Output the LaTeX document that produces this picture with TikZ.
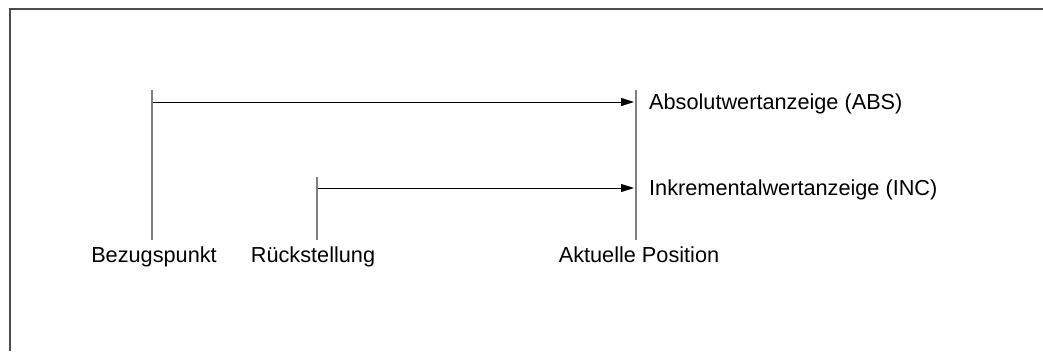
\documentclass[tikz,border=0pt]{standalone}
\usepackage{fontspec}
\setmainfont{Liberation Sans}
\usepackage{xcolor}
\usetikzlibrary{arrows.meta,positioning}

\definecolor{framegray}{gray}{0.3}
\definecolor{linegray}{gray}{0.5}

\begin{document}
\begin{tikzpicture}[
  x=1pt, y=-1pt,
  poslabel/.style={inner sep=0pt, anchor=base, font=\fontsize{21.7}{26}\selectfont},
  readout/.style={inner sep=0pt, anchor=base west, font=\fontsize{21.7}{26}\selectfont},
  posline/.style={draw=linegray, line width=1.5pt},
  arrow/.style={-{Triangle[length=13pt, width=8pt]}, line width=1pt}
]
\useasboundingbox (0,0) rectangle (1043,351);
\draw[framegray, line width=1.5pt] (1043,9) -- (10,9) -- (10,351);

\node[poslabel] (bezug) at (154,262) {Bezugspunkt};
\node[poslabel] (rueck) at (313,262) {Rückstellung};
\node[poslabel] (aktuell) at (639,262) {Aktuelle Position};

\coordinate (bezugtop) at (152,90);
\coordinate (bezugbot) at (152,240);
\coordinate (ruecktop) at (317,177);
\coordinate (rueckbot) at (317,240);
\coordinate (aktuelltop) at (636,90);
\coordinate (aktuellbot) at (636,240);

\draw[posline] (bezugtop) -- (bezugbot);
\draw[posline] (ruecktop) -- (rueckbot);
\draw[posline] (aktuelltop) -- (aktuellbot);

\coordinate (absstart) at (152.75,102);
\coordinate (absend) at (634,102);
\coordinate (incstart) at (317.75,188);
\coordinate (incend) at (634,188);

\draw[arrow] (absstart) -- (absend);
\draw[arrow] (incstart) -- (incend);

\node[readout] (abs) at (649,109) {Absolutwertanzeige (ABS)};
\node[readout] (inc) at (649,195) {Inkrementalwertanzeige (INC)};
\end{tikzpicture}
\end{document}
